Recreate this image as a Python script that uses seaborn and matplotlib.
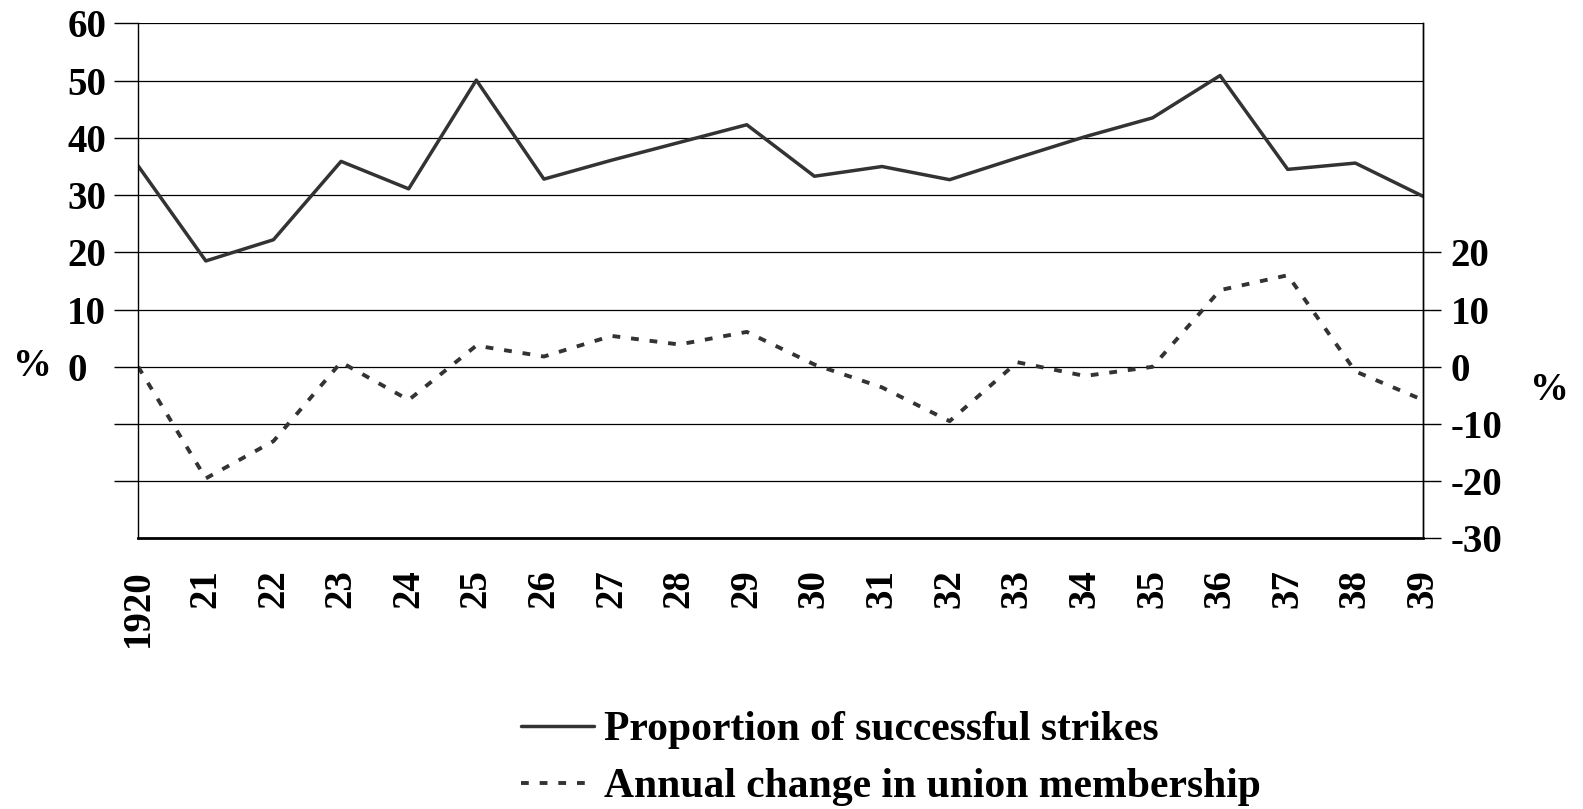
import numpy as np
import pandas as pd
import matplotlib
matplotlib.use("Agg")
import matplotlib.pyplot as plt
import seaborn as sns

sns.set_theme(style="white")
plt.rcParams['font.family'] = ['Liberation Serif', 'DejaVu Serif']
plt.rcParams['font.weight'] = 'bold'
plt.rcParams['axes.unicode_minus'] = False
plt.rcParams['text.color'] = 'black'
plt.rcParams['xtick.color'] = 'black'
plt.rcParams['ytick.color'] = 'black'

# values
years = list(range(1920, 1940))
year_labels = ['1920', '21', '22', '23', '24', '25', '26', '27', '28', '29',
               '30', '31', '32', '33', '34', '35', '36', '37', '38', '39']
strikes = [35.1, 18.5, 22.2, 35.9, 31.1, 50.1, 32.8, 36.1, 39.2, 42.3,
           33.3, 35.0, 32.7, 36.5, 40.2, 43.5, 50.9, 34.5, 35.6, 29.8]
union = [0.0, -19.5, -13.0, 0.8, -5.8, 3.7, 1.8, 5.4, 3.9, 6.1,
         0.4, -3.6, -9.5, 0.8, -1.6, 0.0, 13.4, 16.0, -0.8, -5.8]
left_ticks = list(range(-20, 61, 10))
right_ticks = list(range(-30, 21, 10))

df = pd.DataFrame({'year': years, 'strikes': strikes, 'union': union})

fig = plt.figure(figsize=(15.83, 8.09), dpi=100)
ax = fig.add_axes([0.0873, 0.3344, 0.8116, 0.6366])

line_col = '#333333'
sns.lineplot(data=df, x='year', y='strikes', ax=ax, color=line_col, lw=2.5,
             label='Proportion of successful strikes')
sns.lineplot(data=df, x='year', y='union', ax=ax, color=line_col, lw=2.8,
             linestyle=(0, (2.0, 2.8)), label='Annual change in union membership')

ax.set_xlim(1920, 1939)
ax.set_ylim(-30, 60)
ax.set_xlabel('')
ax.set_ylabel('')

# grid + left axis (labels left-aligned like the original)
ax.set_yticks(left_ticks)
ax.set_yticklabels([str(v) if v >= 0 else '' for v in left_ticks], ha='left')
ax.yaxis.grid(True, color='black', lw=0.9)
ax.xaxis.grid(False)
for t, v in zip(ax.yaxis.get_major_ticks(), left_ticks):
    if v < 0:
        t.tick1line.set_visible(False)
ax.tick_params(axis='y', which='major', direction='out', length=17, width=1,
               color='black', pad=34, labelsize=28, left=True)
ax.set_xticks(years)
ax.set_xticklabels(year_labels, rotation=90)
ax.tick_params(axis='x', length=0, pad=22, labelsize=28)

for side in ['left', 'right']:
    ax.spines[side].set_color('black')
    ax.spines[side].set_linewidth(1)
ax.spines['top'].set_visible(False)
ax.spines['bottom'].set_color('black')
ax.spines['bottom'].set_linewidth(2)

# right axis, same scale
ax2 = ax.twinx()
ax2.set_ylim(-30, 60)
ax2.set_yticks(right_ticks)
ax2.grid(False)
ax2.tick_params(axis='y', direction='out', length=13, width=1, color='black',
                pad=7, labelsize=28, right=True)
for side in ['top', 'left', 'bottom']:
    ax2.spines[side].set_visible(False)
ax2.spines['right'].set_color('black')
ax2.spines['right'].set_linewidth(1)

fig.text(32 / 1583, 1 - 366 / 809, '%', fontsize=28, ha='center', va='center')
fig.text(1549 / 1583, 1 - 390 / 809, '%', fontsize=28, ha='center', va='center')

if ax.get_legend() is not None:
    ax.get_legend().remove()
h, l = ax.get_legend_handles_labels()
fig.legend(h, l, loc='center left', bbox_to_anchor=(0.329, 0.062), frameon=False,
           fontsize=30, handlelength=1.75, handletextpad=0.25, labelspacing=0.45,
           borderpad=0, borderaxespad=0)

fig.savefig('out.png', dpi=100)
